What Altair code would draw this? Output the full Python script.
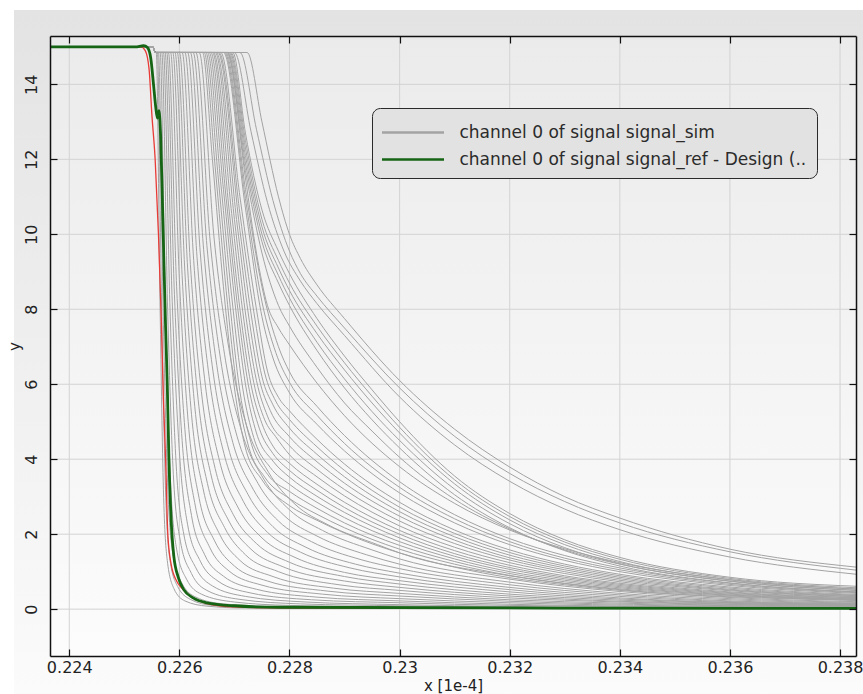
import altair as alt
import pandas as pd

# ---------------- data ----------------
X_TICKS = [0.224, 0.226, 0.228, 0.23, 0.232, 0.234, 0.236, 0.238]
Y_TICKS = [0, 2, 4, 6, 8, 10, 12, 14]
X_DOMAIN = [0.22365, 0.23829]
Y_DOMAIN = [-1.25, 15.29]

SIM_LABEL = "channel 0 of signal signal_sim"
REF_LABEL = "channel 0 of signal signal_ref - Design (.."

# common start of every simulated curve (flat at 15, small step to the plateau)
GRAY_LEAD = [[0.22365, 15.0], [0.22552, 15.0], [0.22556, 14.85]]

SIM_CURVES = [
    [[0.22558, 14.85], [0.22565, 8.0], [0.22571, 3.2], [0.22578, 1.3], [0.2259, 0.55], [0.2261, 0.22], [0.2265, 0.08], [0.2272, 0.03], [0.2383, 0.01]],
    [[0.2256, 14.85], [0.22568, 7.8], [0.22575, 3.1], [0.22583, 1.3], [0.22597, 0.6], [0.2262, 0.26], [0.2266, 0.1], [0.2274, 0.04], [0.2383, 0.01]],
    [[0.22562, 14.85], [0.22571, 7.6], [0.22579, 3.2], [0.22589, 1.4], [0.22605, 0.68], [0.2263, 0.32], [0.2268, 0.14], [0.2278, 0.07], [0.23, 0.04], [0.2383, 0.02]],
    [[0.22565, 14.85], [0.22575, 7.6], [0.22584, 3.4], [0.22595, 1.6], [0.22613, 0.8], [0.2264, 0.4], [0.227, 0.19], [0.228, 0.1], [0.23, 0.06], [0.2383, 0.02]],
    [[0.22568, 14.85], [0.22579, 7.8], [0.22589, 3.6], [0.22602, 1.8], [0.22622, 0.95], [0.2265, 0.5], [0.2271, 0.26], [0.2282, 0.14], [0.23, 0.09], [0.234, 0.04], [0.2383, 0.03]],
    [[0.22571, 14.85], [0.22583, 8.0], [0.22594, 3.9], [0.22608, 2.0], [0.2263, 1.1], [0.2266, 0.62], [0.2272, 0.34], [0.2283, 0.19], [0.23, 0.12], [0.234, 0.05], [0.2383, 0.03]],
    [[0.22574, 14.85], [0.22587, 8.2], [0.226, 4.2], [0.22615, 2.25], [0.22638, 1.28], [0.2267, 0.75], [0.2273, 0.43], [0.2284, 0.25], [0.23, 0.17], [0.232, 0.1], [0.2383, 0.04]],
    [[0.22577, 14.85], [0.22591, 8.4], [0.22605, 4.5], [0.22622, 2.5], [0.22646, 1.45], [0.2268, 0.88], [0.2274, 0.53], [0.2285, 0.32], [0.23, 0.22], [0.232, 0.13], [0.235, 0.07], [0.2383, 0.05]],
    [[0.2258, 14.85], [0.22595, 8.6], [0.2261, 4.8], [0.22629, 2.75], [0.22655, 1.65], [0.2269, 1.02], [0.2275, 0.64], [0.2286, 0.4], [0.23, 0.28], [0.232, 0.17], [0.235, 0.09], [0.2383, 0.06]],
    [[0.22584, 14.85], [0.226, 8.8], [0.22616, 5.0], [0.22636, 2.95], [0.22664, 1.82], [0.227, 1.15], [0.2276, 0.75], [0.2287, 0.48], [0.23, 0.35], [0.232, 0.21], [0.235, 0.11], [0.2383, 0.07]],
    [[0.22588, 14.85], [0.22605, 8.9], [0.22622, 5.2], [0.22644, 3.15], [0.22673, 2.0], [0.2271, 1.3], [0.2277, 0.87], [0.2288, 0.56], [0.23, 0.42], [0.232, 0.25], [0.234, 0.16], [0.2383, 0.08]],
    [[0.22592, 14.85], [0.2261, 9.0], [0.22628, 5.4], [0.22651, 3.35], [0.22682, 2.18], [0.2272, 1.45], [0.2278, 1.0], [0.2289, 0.65], [0.23, 0.5], [0.232, 0.3], [0.234, 0.19], [0.2383, 0.09]],
    [[0.22596, 14.85], [0.22615, 9.1], [0.22634, 5.6], [0.22658, 3.55], [0.2269, 2.35], [0.2273, 1.6], [0.2279, 1.12], [0.229, 0.75], [0.23, 0.58], [0.232, 0.35], [0.234, 0.21], [0.2383, 0.1]],
    [[0.226, 14.85], [0.2262, 9.2], [0.2264, 5.8], [0.22665, 3.75], [0.22698, 2.52], [0.2274, 1.75], [0.228, 1.25], [0.229, 0.87], [0.23, 0.67], [0.232, 0.4], [0.234, 0.24], [0.2383, 0.11]],
    [[0.22605, 14.85], [0.22626, 9.3], [0.22647, 6.0], [0.22673, 3.95], [0.22707, 2.7], [0.2275, 1.9], [0.2281, 1.38], [0.229, 0.98], [0.23, 0.76], [0.232, 0.46], [0.234, 0.27], [0.2383, 0.12]],
    [[0.2261, 14.85], [0.22632, 9.4], [0.22654, 6.2], [0.22681, 4.15], [0.22716, 2.88], [0.2276, 2.05], [0.2282, 1.52], [0.2291, 1.1], [0.23, 0.86], [0.232, 0.52], [0.234, 0.3], [0.236, 0.18], [0.2383, 0.13]],
    [[0.22615, 14.85], [0.22638, 9.5], [0.22661, 6.35], [0.22689, 4.3], [0.22725, 3.05], [0.2277, 2.2], [0.2283, 1.65], [0.2292, 1.2], [0.23, 0.96], [0.232, 0.58], [0.234, 0.34], [0.236, 0.2], [0.2383, 0.14]],
    [[0.2262, 14.85], [0.22644, 9.6], [0.22668, 6.5], [0.22697, 4.45], [0.22734, 3.2], [0.2278, 2.35], [0.2284, 1.8], [0.2293, 1.32], [0.23, 1.08], [0.232, 0.65], [0.234, 0.38], [0.236, 0.22], [0.2383, 0.15]],
    [[0.22625, 14.85], [0.2265, 9.7], [0.22675, 6.65], [0.22705, 4.6], [0.22743, 3.35], [0.2279, 2.5], [0.2285, 1.95], [0.2294, 1.45], [0.23, 1.2], [0.232, 0.72], [0.234, 0.42], [0.236, 0.25], [0.2383, 0.16]],
    [[0.2263, 14.85], [0.22656, 9.8], [0.22682, 6.8], [0.22713, 4.75], [0.22752, 3.5], [0.228, 2.65], [0.2286, 2.1], [0.2295, 1.58], [0.23, 1.34], [0.232, 0.8], [0.234, 0.47], [0.236, 0.28], [0.2383, 0.18]],
    [[0.22636, 14.85], [0.22663, 9.9], [0.2269, 6.95], [0.22722, 4.9], [0.22762, 3.65], [0.2281, 2.8], [0.2287, 2.25], [0.2296, 1.72], [0.23, 1.5], [0.232, 0.89], [0.234, 0.52], [0.236, 0.31], [0.2383, 0.2]],
    [[0.22642, 14.85], [0.2266, 12.0], [0.2268, 8.6], [0.227, 5.9], [0.2272, 4.3], [0.2275, 3.45], [0.228, 2.76], [0.2285, 2.37], [0.229, 2.03], [0.23, 1.5], [0.231, 1.12], [0.232, 0.84], [0.233, 0.65], [0.234, 0.5], [0.236, 0.33], [0.2383, 0.23]],
    [[0.22645, 14.85], [0.22665, 11.8], [0.22685, 8.5], [0.22705, 5.85], [0.22725, 4.38], [0.22755, 3.52], [0.228, 2.95], [0.2285, 2.53], [0.229, 2.17], [0.23, 1.6], [0.231, 1.2], [0.232, 0.9], [0.233, 0.69], [0.234, 0.54], [0.236, 0.35], [0.2383, 0.24]],
    [[0.22648, 14.85], [0.2267, 11.6], [0.2269, 8.4], [0.2271, 5.8], [0.2273, 4.45], [0.2276, 3.6], [0.228, 3.14], [0.2285, 2.69], [0.229, 2.3], [0.23, 1.7], [0.231, 1.27], [0.232, 0.95], [0.233, 0.73], [0.234, 0.57], [0.236, 0.37], [0.2383, 0.25]],
    [[0.22651, 14.85], [0.22675, 11.4], [0.22695, 8.35], [0.22715, 5.9], [0.22735, 4.58], [0.22765, 3.78], [0.228, 3.33], [0.2285, 2.85], [0.229, 2.44], [0.23, 1.8], [0.231, 1.34], [0.232, 1.0], [0.233, 0.77], [0.234, 0.6], [0.236, 0.38], [0.2383, 0.26]],
    [[0.22654, 14.85], [0.2268, 11.2], [0.227, 8.3], [0.2272, 6.0], [0.2274, 4.7], [0.2277, 3.95], [0.228, 3.52], [0.2285, 3.01], [0.229, 2.58], [0.23, 1.9], [0.231, 1.41], [0.232, 1.06], [0.233, 0.81], [0.234, 0.63], [0.236, 0.4], [0.2383, 0.27]],
    [[0.22657, 14.85], [0.22685, 10.95], [0.22705, 8.15], [0.22725, 6.0], [0.22745, 4.83], [0.2277, 4.15], [0.228, 3.7], [0.2285, 3.17], [0.229, 2.71], [0.23, 2.0], [0.231, 1.48], [0.232, 1.11], [0.233, 0.85], [0.234, 0.66], [0.236, 0.42], [0.2383, 0.28]],
    [[0.2266, 14.85], [0.2269, 10.7], [0.2271, 8.0], [0.2273, 6.0], [0.2275, 4.95], [0.2277, 4.35], [0.228, 3.89], [0.2285, 3.33], [0.229, 2.85], [0.23, 2.1], [0.231, 1.56], [0.232, 1.17], [0.233, 0.89], [0.234, 0.69], [0.236, 0.44], [0.2383, 0.3]],
    [[0.22662, 14.85], [0.22695, 10.55], [0.22715, 7.95], [0.22735, 6.05], [0.22755, 5.05], [0.22775, 4.6], [0.228, 4.12], [0.2285, 3.53], [0.229, 3.02], [0.23, 2.22], [0.231, 1.65], [0.232, 1.24], [0.233, 0.95], [0.234, 0.73], [0.236, 0.46], [0.2383, 0.31]],
    [[0.22665, 14.85], [0.227, 10.4], [0.2272, 7.9], [0.2274, 6.1], [0.2276, 5.15], [0.228, 4.36], [0.2285, 3.73], [0.229, 3.19], [0.23, 2.35], [0.231, 1.75], [0.232, 1.31], [0.233, 1.0], [0.234, 0.77], [0.236, 0.49], [0.2383, 0.33]],
    [[0.22667, 14.85], [0.22705, 10.25], [0.22725, 7.9], [0.22745, 6.15], [0.22765, 5.3], [0.228, 4.6], [0.2285, 3.93], [0.229, 3.36], [0.23, 2.48], [0.231, 1.84], [0.232, 1.37], [0.233, 1.05], [0.234, 0.81], [0.236, 0.51], [0.2383, 0.34]],
    [[0.2267, 14.85], [0.2271, 10.1], [0.2273, 7.9], [0.2275, 6.2], [0.2277, 5.45], [0.228, 4.83], [0.2285, 4.13], [0.229, 3.53], [0.23, 2.6], [0.231, 1.93], [0.232, 1.44], [0.233, 1.1], [0.234, 0.85], [0.236, 0.53], [0.2383, 0.36]],
    [[0.22672, 14.85], [0.2271, 10.55], [0.22735, 7.95], [0.22755, 6.3], [0.22775, 5.55], [0.228, 5.06], [0.2285, 4.33], [0.229, 3.7], [0.23, 2.72], [0.231, 2.02], [0.232, 1.51], [0.233, 1.15], [0.234, 0.89], [0.236, 0.56], [0.2383, 0.37]],
    [[0.22675, 14.85], [0.2271, 11.0], [0.2274, 8.0], [0.2276, 6.35], [0.2278, 5.65], [0.228, 5.29], [0.2285, 4.53], [0.229, 3.87], [0.23, 2.85], [0.231, 2.11], [0.232, 1.58], [0.233, 1.2], [0.234, 0.93], [0.236, 0.59], [0.2383, 0.39]],
    [[0.2268, 14.85], [0.2272, 10.7], [0.2275, 7.8], [0.2277, 6.7], [0.228, 5.77], [0.2285, 4.93], [0.229, 4.22], [0.23, 3.1], [0.231, 2.3], [0.232, 1.72], [0.233, 1.3], [0.234, 1.0], [0.236, 0.63], [0.2383, 0.42]],
    [[0.22682, 14.85], [0.2272, 10.95], [0.2275, 8.2], [0.22775, 6.85], [0.228, 6.05], [0.2285, 5.17], [0.229, 4.42], [0.23, 3.25], [0.231, 2.41], [0.232, 1.8], [0.233, 1.36], [0.234, 1.05], [0.236, 0.66], [0.2383, 0.44]],
    [[0.22684, 14.85], [0.2272, 11.2], [0.2275, 8.6], [0.2278, 7.0], [0.228, 6.33], [0.2285, 5.41], [0.229, 4.63], [0.23, 3.4], [0.231, 2.52], [0.232, 1.88], [0.233, 1.43], [0.234, 1.1], [0.236, 0.69], [0.2383, 0.46]],
    [[0.22686, 14.85], [0.2272, 11.5], [0.2274, 9.5], [0.2276, 8.1], [0.2278, 7.5], [0.228, 7.05], [0.2285, 6.03], [0.229, 5.16], [0.23, 3.8], [0.231, 2.82], [0.232, 2.11], [0.233, 1.61], [0.234, 1.24], [0.236, 0.79], [0.2383, 0.53]],
    [[0.22687, 14.85], [0.2272, 11.7], [0.2275, 9.5], [0.2278, 8.1], [0.228, 7.55], [0.2285, 6.45], [0.229, 5.5], [0.2295, 4.75], [0.23, 4.05], [0.231, 2.93], [0.232, 2.14], [0.233, 1.58], [0.234, 1.2], [0.236, 0.75], [0.2383, 0.5]],
    [[0.22688, 14.85], [0.2272, 11.9], [0.2275, 9.8], [0.2278, 8.7], [0.228, 8.1], [0.2285, 6.9], [0.229, 5.9], [0.2295, 5.05], [0.23, 4.3], [0.231, 3.05], [0.232, 2.17], [0.233, 1.56], [0.234, 1.15], [0.236, 0.7], [0.2383, 0.46]],
    [[0.2269, 14.85], [0.2272, 12.1], [0.2275, 10.0], [0.2278, 8.9], [0.228, 8.3], [0.2285, 7.12], [0.229, 6.14], [0.2295, 5.27], [0.23, 4.5], [0.231, 3.2], [0.232, 2.28], [0.233, 1.64], [0.234, 1.21], [0.236, 0.74], [0.2383, 0.5]],
    [[0.22692, 14.85], [0.2272, 12.3], [0.2275, 10.2], [0.2278, 9.1], [0.228, 8.5], [0.2285, 7.35], [0.229, 6.38], [0.2295, 5.5], [0.23, 4.7], [0.231, 3.34], [0.232, 2.38], [0.233, 1.72], [0.234, 1.27], [0.236, 0.78], [0.2383, 0.54]],
    [[0.22694, 14.85], [0.2272, 12.5], [0.2275, 10.4], [0.2278, 9.3], [0.228, 8.7], [0.2285, 7.55], [0.229, 6.57], [0.2295, 5.68], [0.23, 4.85], [0.231, 3.45], [0.232, 2.47], [0.233, 1.79], [0.234, 1.33], [0.236, 0.82], [0.2383, 0.57]],
    [[0.22697, 14.85], [0.2272, 12.7], [0.2275, 10.65], [0.2278, 9.55], [0.228, 8.95], [0.2285, 7.75], [0.229, 6.75], [0.2295, 5.85], [0.23, 5.0], [0.231, 3.55], [0.232, 2.55], [0.233, 1.85], [0.234, 1.38], [0.236, 0.85], [0.2383, 0.61]],
    [[0.227, 14.85], [0.2273, 12.75], [0.2276, 10.85], [0.2279, 9.55], [0.2282, 8.75], [0.2285, 8.15], [0.229, 7.3], [0.23, 5.66], [0.231, 4.38], [0.232, 3.41], [0.233, 2.67], [0.234, 2.12], [0.236, 1.39], [0.2383, 0.93]],
    [[0.2271, 14.85], [0.2274, 12.8], [0.2277, 10.9], [0.228, 9.55], [0.2282, 8.95], [0.2285, 8.35], [0.229, 7.5], [0.23, 5.9], [0.231, 4.61], [0.232, 3.62], [0.233, 2.87], [0.234, 2.3], [0.236, 1.53], [0.2383, 1.04]],
    [[0.22723, 14.85], [0.2275, 13.0], [0.2278, 11.0], [0.228, 10.0], [0.2282, 9.35], [0.2285, 8.65], [0.229, 7.75], [0.23, 6.1], [0.231, 4.8], [0.232, 3.79], [0.233, 3.0], [0.234, 2.43], [0.236, 1.6], [0.2383, 1.12]],
]

REF_X = [0.22365, 0.2252, 0.22535, 0.22542, 0.22548, 0.22553, 0.22557, 0.2256, 0.22563, 0.22566,
         0.22569, 0.22572, 0.22575, 0.22578, 0.22581, 0.22585, 0.2259, 0.22598, 0.22608, 0.22625,
         0.2265, 0.227, 0.2278, 0.2383]
REF_Y = [15.0, 15.0, 15.03, 14.98, 14.7, 14.0, 13.4, 13.1, 13.3, 12.6,
         11.0, 9.2, 7.5, 6.0, 4.0, 2.4, 1.4, 0.85, 0.52, 0.3,
         0.17, 0.09, 0.05, 0.02]

RED_X = [0.22365, 0.2253, 0.22538, 0.22545, 0.2255, 0.22556, 0.22562, 0.22567, 0.22571, 0.22575,
         0.22579, 0.22585, 0.22595, 0.22605, 0.2262, 0.2265, 0.227, 0.228, 0.2383]
RED_Y = [15.0, 15.0, 14.9, 14.4, 13.2, 12.0, 10.0, 7.8, 5.6, 4.0,
         2.0, 1.2, 0.75, 0.55, 0.35, 0.15, 0.06, 0.03, 0.02]

# ---------------- styling ----------------
GRAY = "#a3a3a3"
GREEN = "#156515"
RED = "#e83a36"
FONT = "DejaVu Sans"
W, H = 806, 620

sim_rows = []
for i, pts in enumerate(SIM_CURVES):
    for x, y in GRAY_LEAD + pts:
        sim_rows.append({"curve": i, "x": x, "y": y, "series": SIM_LABEL})
sim_df = pd.DataFrame(sim_rows)
ref_df = pd.DataFrame({"x": REF_X, "y": REF_Y, "series": REF_LABEL})
red_df = pd.DataFrame({"x": RED_X, "y": RED_Y})

xs = alt.Scale(domain=X_DOMAIN, nice=False, zero=False)
ys = alt.Scale(domain=Y_DOMAIN, nice=False, zero=False)
one = alt.Data(values=[{"k": 0}])

outer_grad = {"gradient": "linear", "x1": 0, "y1": 0, "x2": 0, "y2": 1,
              "stops": [{"offset": 0, "color": "#e3e3e3"}, {"offset": 1, "color": "#fbfbfb"}]}
inner_grad = {"gradient": "linear", "x1": 0, "y1": 0, "x2": 0, "y2": 1,
              "stops": [{"offset": 0, "color": "#ebebeb"}, {"offset": 1, "color": "#fcfcfc"}]}

outer = alt.Chart(one).mark_rect(fill=outer_grad).encode(
    x=alt.value(-36), x2=alt.value(813), y=alt.value(-26), y2=alt.value(658))
inner = alt.Chart(one).mark_rect(fill=inner_grad).encode(
    x=alt.value(0), x2=alt.value(W), y=alt.value(0), y2=alt.value(H))

xgrid = alt.Chart(pd.DataFrame({"x": X_TICKS})).mark_rule(color="#d3d3d3", strokeWidth=1).encode(
    x=alt.X("x:Q", scale=xs, axis=None))
ygrid = alt.Chart(pd.DataFrame({"y": Y_TICKS})).mark_rule(color="#d3d3d3", strokeWidth=1).encode(
    y=alt.Y("y:Q", scale=ys, axis=None))

color_scale = alt.Scale(domain=[SIM_LABEL, REF_LABEL], range=[GRAY, GREEN])

legend = alt.Legend(
    orient="none", legendX=322, legendY=72, title=None,
    fillColor="#e2e2e2", strokeColor="#2a2a2a", cornerRadius=8, padding=10,
    symbolType="M-2.385,0H2.385", symbolSize=676, symbolStrokeWidth=2.5,
    symbolOffset=16.5, labelOffset=32, rowPadding=4,
    labelFont=FONT, labelFontSize=17, labelColor="#2b2b2b", labelLimit=600,
)

gray = alt.Chart(sim_df).mark_line(strokeWidth=1, clip=True, interpolate="monotone").encode(
    x=alt.X("x:Q", scale=xs, axis=alt.Axis(
        orient="bottom", values=X_TICKS, format="~g", grid=False, ticks=False, tickSize=0,
        domain=True, domainColor="#111111", domainWidth=1.5,
        labelFont=FONT, labelFontSize=16, labelColor="#222222", labelPadding=3,
        title="x [1e-4]", titleFont=FONT, titleFontSize=15, titleFontWeight="normal",
        titleColor="#222222", titlePadding=3, zindex=1)),
    y=alt.Y("y:Q", scale=ys, axis=alt.Axis(
        orient="left", values=Y_TICKS, grid=False, ticks=False, tickSize=0,
        domain=True, domainColor="#111111", domainWidth=1.5,
        labelFont=FONT, labelFontSize=16, labelColor="#222222", labelPadding=11,
        labelAngle=270, labelAlign="center", labelBaseline="bottom",
        title="y", titleFont=FONT, titleFontSize=15, titleFontWeight="normal",
        titleColor="#222222", titlePadding=1, zindex=1)),
    color=alt.Color("series:N", scale=color_scale, legend=legend),
    detail="curve:N",
)

red = alt.Chart(red_df).mark_line(color=RED, strokeWidth=1.3, clip=True, interpolate="monotone").encode(
    x=alt.X("x:Q", scale=xs, axis=alt.Axis(
        orient="top", offset=-H, values=X_TICKS, labels=False, domain=False, grid=False,
        ticks=True, tickSize=7, tickColor="#111111", tickWidth=1.2, title=None, zindex=1)),
    y=alt.Y("y:Q", scale=ys, axis=alt.Axis(
        orient="right", offset=-W, values=Y_TICKS, labels=False, domain=False, grid=False,
        ticks=True, tickSize=7, tickColor="#111111", tickWidth=1.2, title=None, zindex=1)),
)

green = alt.Chart(ref_df).mark_line(strokeWidth=2.8, clip=True, interpolate="monotone").encode(
    x=alt.X("x:Q", scale=xs, axis=alt.Axis(
        orient="bottom", offset=-H, values=X_TICKS, labels=False, domain=True,
        domainColor="#111111", domainWidth=1.5, grid=False,
        ticks=True, tickSize=7, tickColor="#111111", tickWidth=1.2, title=None, zindex=1)),
    y=alt.Y("y:Q", scale=ys, axis=alt.Axis(
        orient="left", offset=-W, values=Y_TICKS, labels=False, domain=True,
        domainColor="#111111", domainWidth=1.5, grid=False,
        ticks=True, tickSize=7, tickColor="#111111", tickWidth=1.2, title=None, zindex=1)),
    color=alt.Color("series:N", scale=color_scale, legend=legend),
)

chart = alt.layer(outer, inner, xgrid, ygrid, gray, red, green).resolve_axis(
    x="independent", y="independent"
).properties(
    width=W, height=H,
    padding={"left": 50, "top": 36, "right": 7, "bottom": 38},
    autosize=alt.AutoSizeParams(type="none"),
    background="white",
).configure(font=FONT).configure_view(stroke=None)

chart.save("out.html", embed_options={"renderer": "svg", "actions": False})
